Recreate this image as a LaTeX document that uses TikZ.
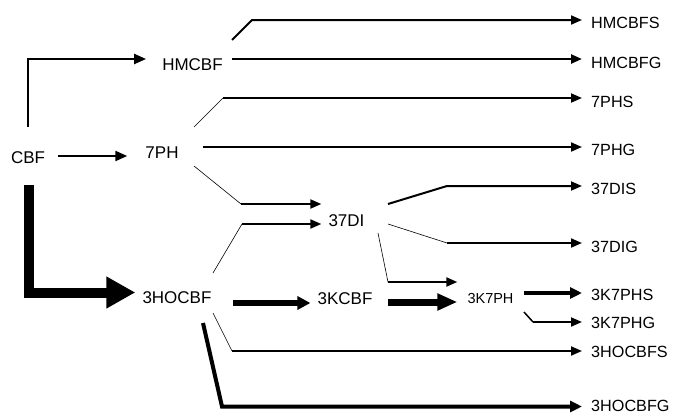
\documentclass[tikz,border=0pt]{standalone}
\usepackage{fontspec}
\setmainfont{Liberation Sans}
\usetikzlibrary{arrows.meta}
\begin{document}
\begin{tikzpicture}[x=1pt,y=1pt,
  lbl/.style={inner sep=0pt, font=\fontsize{17}{20}\selectfont},
  lblsmall/.style={inner sep=0pt, font=\fontsize{14.5}{17}\selectfont},
  tipS/.style={-{Triangle[length=11pt,width=9pt]}},
  thinln/.style={line width=0.6pt},
  medln/.style={line width=2pt},
  endlbl/.style={inner sep=0pt, font=\fontsize{16.2}{20}\selectfont, anchor=west},
]
\useasboundingbox (0,0) rectangle (673,-415);

% compounds along the pathway
\node[lbl] (cbf)   at (28,-158)    {CBF};
\node[lbl] (ph7)   at (162,-153)   {7PH};
\node[lbl] (hmcbf) at (192.5,-65)  {HMCBF};
\node[lbl] (hocbf) at (177,-298)   {3HOCBF};
\node[lbl] (kcbf)  at (345,-299)   {3KCBF};
\node[lbl] (di37)  at (346.5,-221) {37DI};
\node[lblsmall] (k7ph) at (490.5,-298.5) {3K7PH};

% end products
\node[endlbl] (hmcbfs) at (591,-23)    {HMCBFS};
\node[endlbl] (hmcbfg) at (591,-63)    {HMCBFG};
\node[endlbl] (phs7)   at (591,-102)   {7PHS};
\node[endlbl] (phg7)   at (591,-150)   {7PHG};
\node[endlbl] (dis37)  at (591,-188.5) {37DIS};
\node[endlbl] (dig37)  at (591,-247)   {37DIG};
\node[endlbl] (k7phs)  at (591,-294.5) {3K7PHS};
\node[endlbl] (k7phg)  at (591,-322.5) {3K7PHG};
\node[endlbl] (hocbfs) at (591,-351.5) {3HOCBFS};
\node[endlbl] (hocbfg) at (591,-405.5) {3HOCBFG};

% branch points
\coordinate (h0) at (28,-127);
\coordinate (g0) at (28.5,-185);
\coordinate (a0) at (232,-40);   \coordinate (a1) at (252,-20);
\coordinate (b0) at (232,-59);
\coordinate (c0) at (194,-127);  \coordinate (c1) at (223,-98);
\coordinate (d0) at (203,-147);
\coordinate (e0) at (194,-166);  \coordinate (e1) at (241,-204);
\coordinate (f0) at (213,-273);  \coordinate (f1) at (242,-224);
\coordinate (gg0) at (388,-204); \coordinate (gg1) at (447,-186);
\coordinate (i0) at (388,-224);  \coordinate (i1) at (447,-243);
\coordinate (j0) at (378,-233);  \coordinate (j1) at (388,-282);
\coordinate (m0) at (524,-312);  \coordinate (m1) at (533,-322);
\coordinate (n0) at (213,-313);  \coordinate (n1) at (232,-351);
\coordinate (o0) at (203,-323);  \coordinate (o1) at (222,-406.5);

% CBF branches
\draw[line width=2.2pt, -{Triangle[length=12pt,width=10pt]}, shorten >=16pt]
  (h0) |- ([yshift=6pt]hmcbf.west);
\draw[line width=2.2pt, -{Triangle[length=12pt,width=10pt]}, shorten <=13pt, shorten >=18pt]
  ([yshift=2pt]cbf.east) -- ([yshift=-3pt]ph7.west);
\draw[line width=10pt, -{Triangle[length=29pt,width=30pt]}, shorten >=7pt]
  (g0) |- ([yshift=5.5pt]hocbf.west);

% HMCBF branches
\draw[medln, tipS, shorten >=9pt] (a0) -- (a1) -- (a1 -| hmcbfs.west);
\draw[line width=2.4pt, tipS, shorten >=9pt] (b0) -- (b0 -| hmcbfg.west);

% 7PH branches
\draw[thinln] (c0) -- (c1);
\draw[medln, tipS, shorten >=9pt] (c1) -- (c1 -| phs7.west);
\draw[medln, tipS, shorten >=9pt] (d0) -- (d0 -| phg7.west);
\draw[thinln] (e0) -- (e1);
\draw[medln, tipS, shorten >=7pt] (e1) -- (e1 -| di37.west);

% 3HOCBF branches
\draw[thinln] (f0) -- (f1);
\draw[medln, tipS, shorten >=7pt] (f1) -- (f1 -| di37.west);
\draw[line width=5.5pt, -{Triangle[length=13pt,width=13pt]}, shorten <=21pt, shorten >=7pt]
  ([yshift=-5pt]hocbf.east) -- ([yshift=-4pt]kcbf.west);
\draw[thinln] (n0) -- (n1);
\draw[medln, tipS, shorten >=9pt] (n1) -- (n1 -| hocbfs.west);
\draw[line width=4pt, -{Triangle[length=12pt,width=11pt]}, shorten >=9pt]
  (o0) -- (o1) -- (o1 -| hocbfg.west);

% 37DI branches
\draw[medln, tipS, shorten >=9pt] (gg0) -- (gg1) -- (gg1 -| dis37.west);
\draw[thinln] (i0) -- (i1);
\draw[medln, tipS, shorten >=9pt] (i1) -- (i1 -| dig37.west);
\draw[thinln] (j0) -- (j1);
\draw[medln, tipS, shorten >=10pt] (j1) -- (j1 -| k7ph.west);

% 3KCBF and 3K7PH branches
\draw[line width=7pt, -{Triangle[length=20pt,width=16pt]}, shorten <=15pt, shorten >=10pt]
  ([yshift=-3pt]kcbf.east) -- ([yshift=-3.5pt]k7ph.west);
\draw[line width=3.5pt, -{Triangle[length=12pt,width=11pt]}, shorten <=10pt, shorten >=9pt]
  ([yshift=5.5pt]k7ph.east) -- ([yshift=1.5pt]k7phs.west);
\draw[line width=1.5pt] (m0) -- (m1);
\draw[medln, tipS, shorten >=9pt] (m1) -- (m1 -| k7phg.west);
\end{tikzpicture}
\end{document}
